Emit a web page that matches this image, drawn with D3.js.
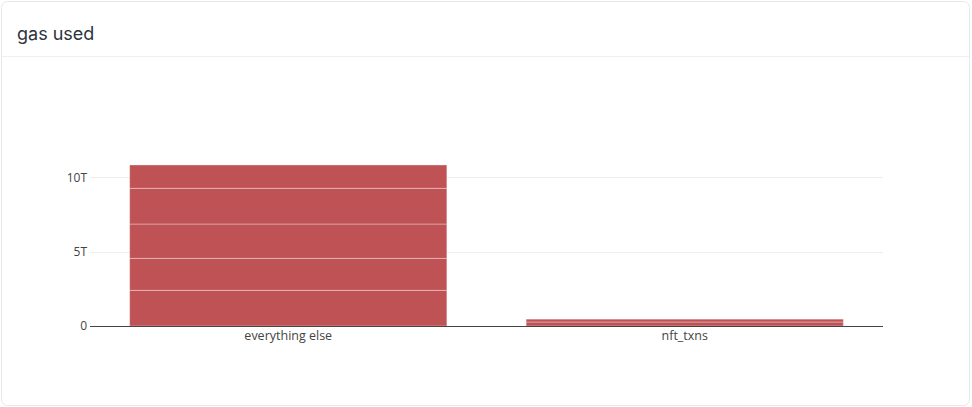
<!DOCTYPE html>
<meta charset="UTF-8">
<style>
body { margin: 0; background: #fff; }
.card text.title { font: 18px Inter, "Noto Sans", sans-serif; fill: #2d3340; }
.tick text { font: 12px "Open Sans", sans-serif; fill: #444; }
.xaxis .tick text { font-size: 12.5px; }
</style>
<body>
<script src="https://cdn.jsdelivr.net/npm/d3@7"></script>
<script>
// categories and the stacked series (values in trillions of gas)
var categories = ["everything else", "nft_txns"];
var seriesNames = ["s1", "s2", "s3", "s4", "s5"];
var s1 = [2.40, 0.27];
var s2 = [2.15, 0.19];
var s3 = [2.31, 0];
var s4 = [2.40, 0];
var s5 = [1.57, 0];
var yTicks = [0, 5e12, 10e12];
var yTickLabels = ["0", "5T", "10T"];

var W = 972, H = 407;
var svg = d3.select("body").append("svg")
    .attr("width", W).attr("height", H)
    .attr("class", "card");

// card frame
svg.append("rect")
    .attr("x", 1.5).attr("y", 1.5)
    .attr("width", 968).attr("height", 404)
    .attr("rx", 6)
    .attr("fill", "#fff")
    .attr("stroke", "#e6e8eb");
svg.append("line")
    .attr("x1", 2).attr("x2", 969)
    .attr("y1", 56.5).attr("y2", 56.5)
    .attr("stroke", "#eef0f2");
svg.append("text").attr("class", "title")
    .attr("x", 17).attr("y", 40)
    .text("gas used");

var x = d3.scaleBand()
    .domain(categories)
    .range([90, 883])
    .paddingInner(0.2)
    .paddingOuter(0.1);

var y = d3.scaleLinear()
    .domain([0, 11.4e12])
    .range([326, 156.5]);

// gridlines
svg.append("g").selectAll("line")
    .data(yTicks.slice(1))
    .enter().append("line")
    .attr("x1", 90).attr("x2", 883)
    .attr("y1", function(d) { return Math.round(y(d)) + 0.5; })
    .attr("y2", function(d) { return Math.round(y(d)) + 0.5; })
    .attr("stroke", "#eee");

// stacked bars
var rows = categories.map(function(c, i) {
  return {cat: c, s1: s1[i] * 1e12, s2: s2[i] * 1e12, s3: s3[i] * 1e12, s4: s4[i] * 1e12, s5: s5[i] * 1e12};
});
var stack = d3.stack().keys(seriesNames)(rows);

svg.append("g").selectAll("g")
    .data(stack)
    .enter().append("g")
    .selectAll("rect")
    .data(function(d) { return d.filter(function(p) { return p[1] > p[0]; }); })
    .enter().append("rect")
    .attr("x", function(d) { return x(d.data.cat); })
    .attr("width", x.bandwidth())
    .attr("y", function(d) { return y(d[1]); })
    .attr("height", function(d) { return y(d[0]) - y(d[1]); })
    .attr("fill", "#bf5254")
    .attr("stroke", "rgba(255,255,255,0.35)")
    .attr("stroke-width", 1);

// y axis (labels only)
var yAxis = svg.append("g")
    .attr("transform", "translate(90,0)")
    .call(d3.axisLeft(y).tickValues(yTicks)
      .tickFormat(function(d, i) { return yTickLabels[i]; })
      .tickSize(0).tickPadding(3));
yAxis.select(".domain").remove();

// x axis
var xAxis = svg.append("g")
    .attr("class", "xaxis")
    .attr("transform", "translate(0,326.5)")
    .call(d3.axisBottom(x).tickSize(0).tickPadding(5));
xAxis.select(".domain")
    .attr("d", "M90,0H883")
    .attr("stroke", "#444");
</script>
</body>
